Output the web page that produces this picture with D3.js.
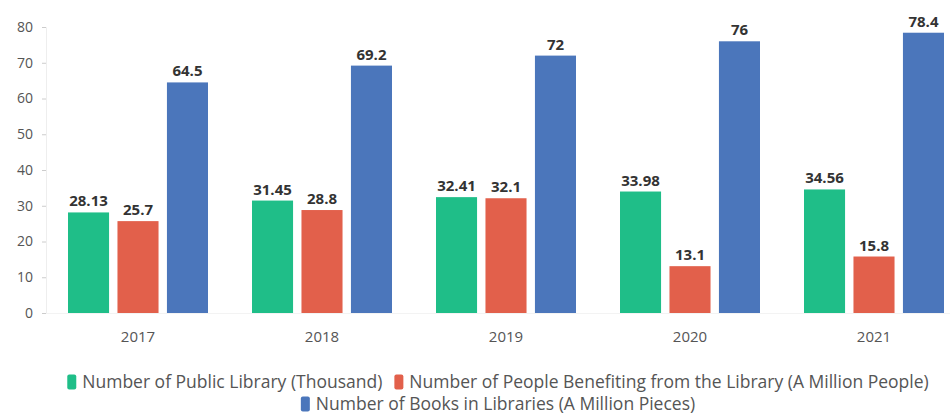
<!DOCTYPE html>
<html>
<head>
<meta charset="utf-8">
<script src="https://cdn.jsdelivr.net/npm/d3@7"></script>
<style>
  html, body { margin: 0; padding: 0; background: #fff; }
  svg { display: block; }
</style>
</head>
<body>
<svg id="chart" width="950" height="416"></svg>
<script>
const years = ["2017", "2018", "2019", "2020", "2021"];
const seriesNames = [
  "Number of Public Library (Thousand)",
  "Number of People Benefiting from the Library (A Million People)",
  "Number of Books in Libraries (A Million Pieces)"
];
const publicLibraries = [28.13, 31.45, 32.41, 33.98, 34.56];
const peopleBenefiting = [25.7, 28.8, 32.1, 13.1, 15.8];
const booksInLibraries = [64.5, 69.2, 72, 76, 78.4];
const yTicks = [0, 10, 20, 30, 40, 50, 60, 70, 80];
const colors = ["#1fbe88", "#e2604b", "#4b76bb"];

const seriesValues = [publicLibraries, peopleBenefiting, booksInLibraries];

const svg = d3.select("#chart");
const margin = { left: 46, right: -16, top: 27, bottom: 103 };
const W = 950, H = 416;

const x = d3.scaleBand().domain(years).range([margin.left, W - margin.right]).paddingInner(0).paddingOuter(0);
const y = d3.scaleLinear().domain([0, 80]).range([H - margin.bottom, margin.top]);

const groupWidth = 140;
const xs = d3.scaleBand().domain(d3.range(3)).range([0, groupWidth]).paddingInner(0.17);

// y axis
const yAxis = svg.append("g")
  .attr("transform", `translate(${margin.left},0)`)
  .call(d3.axisLeft(y).tickValues(yTicks).tickSize(4).tickPadding(9));
yAxis.select(".domain").attr("stroke", "#eeeeee");
yAxis.selectAll(".tick line").attr("stroke", "#cccccc");
yAxis.selectAll(".tick text")
  .attr("fill", "#555")
  .style("font", "14px 'Open Sans', sans-serif");

// x axis labels
const xAxis = svg.append("g")
  .attr("transform", `translate(0,${y(0)})`)
  .call(d3.axisBottom(x).tickSize(0).tickPadding(18));
xAxis.select(".domain").attr("stroke", "#f3f3f3");
xAxis.selectAll(".tick text")
  .attr("fill", "#555")
  .style("font", "15px 'Open Sans', sans-serif");

// bars
const groups = svg.append("g").selectAll("g")
  .data(years)
  .join("g")
  .attr("transform", d => `translate(${x(d) + (x.bandwidth() - groupWidth) / 2},0)`);

groups.each(function (yr, i) {
  const g = d3.select(this);
  seriesValues.forEach((vals, s) => {
    const v = vals[i];
    g.append("rect")
      .attr("x", xs(s))
      .attr("y", y(v))
      .attr("width", xs.bandwidth())
      .attr("height", y(0) - y(v))
      .attr("fill", colors[s]);
    g.append("text")
      .attr("x", xs(s) + xs.bandwidth() / 2)
      .attr("y", y(v) - 6)
      .attr("text-anchor", "middle")
      .attr("fill", "#333")
      .style("font", "bold 15px 'Open Sans', sans-serif")
      .text(v);
  });
});

// legend, wrapped and centred line by line
const legendFont = "17.5px 'Open Sans', sans-serif";
const legendCenter = 498;
const legend = svg.append("g");
const items = seriesNames.map((name, s) => {
  const t = legend.append("text").style("font", legendFont).text(name);
  const w = t.node().getComputedTextLength();
  t.remove();
  return { name, s, w: w + 15 };
});
const maxLine = 900, gap = 12;
const lines = [];
let cur = [], curW = 0;
items.forEach(it => {
  const add = cur.length ? gap + it.w : it.w;
  if (cur.length && curW + add > maxLine) { lines.push({ items: cur, w: curW }); cur = [it]; curW = it.w; }
  else { cur.push(it); curW += add; }
});
if (cur.length) lines.push({ items: cur, w: curW });

const lineY = [382, 404];
lines.forEach((ln, li) => {
  let lx = legendCenter - ln.w / 2;
  ln.items.forEach(it => {
    legend.append("rect")
      .attr("x", lx).attr("y", lineY[li] - 7.5)
      .attr("width", 9).attr("height", 15)
      .attr("rx", 2)
      .attr("fill", colors[it.s]);
    legend.append("text")
      .attr("x", lx + 15).attr("y", lineY[li])
      .attr("dy", "0.35em")
      .attr("fill", "#555")
      .style("font", legendFont)
      .text(it.name);
    lx += it.w + gap;
  });
});
</script>
</body>
</html>
